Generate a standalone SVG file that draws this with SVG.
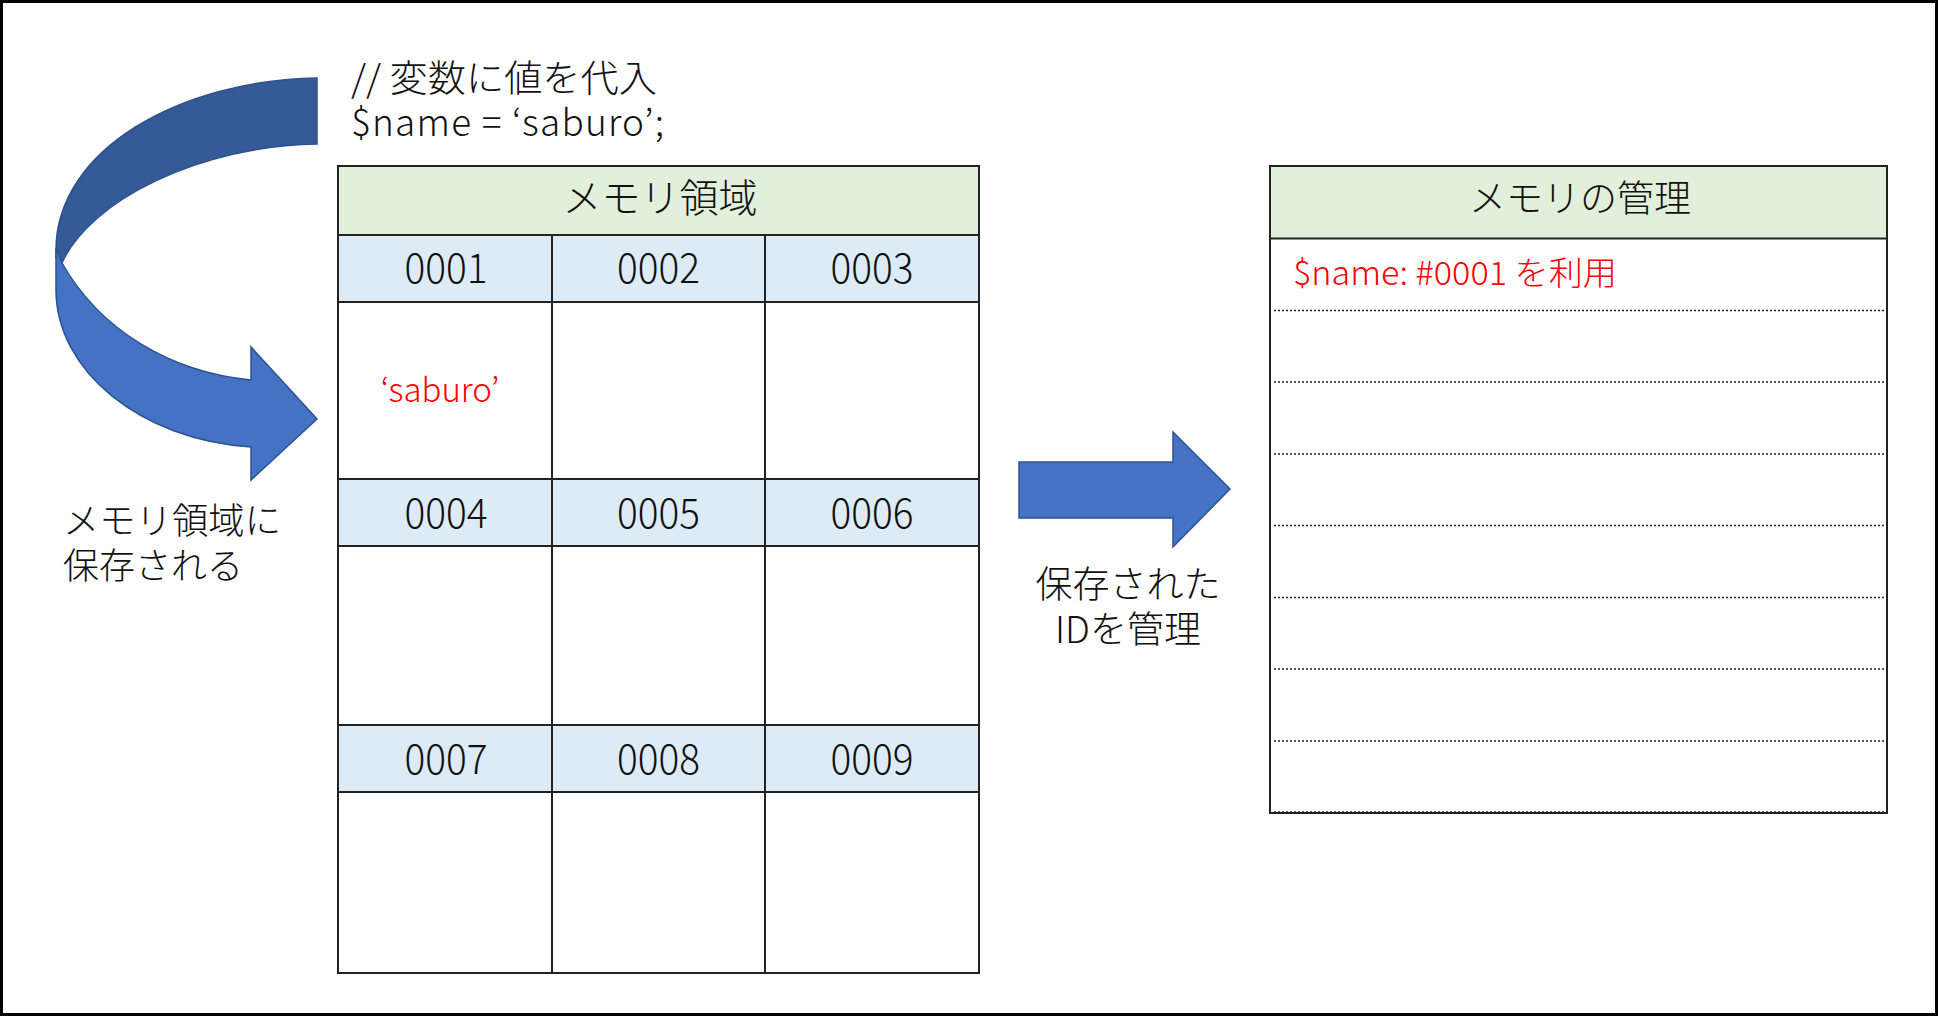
<svg xmlns="http://www.w3.org/2000/svg" width="1938" height="1016" viewBox="0 0 1938 1016">
<style>
.t{font-family:"Noto Sans CJK JP","Noto Sans",sans-serif;fill:#111;font-weight:300}
.red{fill:#FF0000}
.num{font-size:41px;text-anchor:middle}
.grid{stroke:#222;stroke-width:2;fill:none}
.dot{stroke:#222;stroke-width:1.5;stroke-dasharray:2 2;fill:none}
.arrow{fill:#4472C4;stroke:#2F528F;stroke-width:1.5;stroke-linejoin:miter}
.arrowback{fill:#345A98;stroke:#2F528F;stroke-width:1.5}
</style>
<rect x="0" y="0" width="1938" height="1016" fill="#fff"/>
<rect x="1.5" y="1.5" width="1935" height="1013" fill="none" stroke="#000" stroke-width="3"/>

<g id="code-label">
<text class="t" x="351" y="92" font-size="37" textLength="306" lengthAdjust="spacingAndGlyphs">// 変数に値を代入</text>
<text class="t" x="351" y="136" font-size="37" textLength="313" lengthAdjust="spacing" xml:space="preserve">$name = ‘saburo’;</text>
</g>

<g id="connectors">
<g id="curved-arrow">
<path class="arrowback" d="M317,78 C180,80 56,150 56,250 L56,258 L62,263 C90,200 200,146 317,144 Z"/>
<path class="arrow" d="M56,248 L56,290 C56,370 140,440 251,447 L251,480 L317,419 L251,347 L251,380 C170,372 100,330 62,263 Z"/>
</g>
<path id="right-arrow" class="arrow" d="M1019,462 L1173,462 L1173,432 L1230,489 L1173,547 L1173,518 L1019,518 Z"/>
</g>

<g id="label-store">
<text class="t" x="63" y="534" font-size="36" textLength="218" lengthAdjust="spacingAndGlyphs">メモリ領域に</text>
<text class="t" x="63" y="579" font-size="36">保存される</text>
</g>

<g id="label-manage">
<text class="t" x="1128" y="598" font-size="37" text-anchor="middle">保存された</text>
<text class="t" x="1128" y="643" font-size="37" text-anchor="middle">IDを管理</text>
</g>

<g id="memory-area">
<rect x="338" y="166" width="641" height="69" fill="#E2EFDA"/>
<rect x="338" y="235" width="641" height="67" fill="#DDEBF7"/>
<rect x="338" y="479" width="641" height="67" fill="#DDEBF7"/>
<rect x="338" y="725" width="641" height="67" fill="#DDEBF7"/>
<rect class="grid" x="338" y="166" width="641" height="807"/>
<path class="grid" d="M338,235H979M338,302H979M338,479H979M338,546H979M338,725H979M338,792H979M552,235V973M765,235V973"/>
<text class="t" x="660" y="212" font-size="39" text-anchor="middle">メモリ領域</text>
<text class="t num" x="446" y="283" textLength="83" lengthAdjust="spacingAndGlyphs">0001</text>
<text class="t num" x="658.5" y="283" textLength="83" lengthAdjust="spacingAndGlyphs">0002</text>
<text class="t num" x="872" y="283" textLength="83" lengthAdjust="spacingAndGlyphs">0003</text>
<text class="t num" x="446" y="528" textLength="83" lengthAdjust="spacingAndGlyphs">0004</text>
<text class="t num" x="658.5" y="528" textLength="83" lengthAdjust="spacingAndGlyphs">0005</text>
<text class="t num" x="872" y="528" textLength="83" lengthAdjust="spacingAndGlyphs">0006</text>
<text class="t num" x="446" y="774" textLength="83" lengthAdjust="spacingAndGlyphs">0007</text>
<text class="t num" x="658.5" y="774" textLength="83" lengthAdjust="spacingAndGlyphs">0008</text>
<text class="t num" x="872" y="774" textLength="83" lengthAdjust="spacingAndGlyphs">0009</text>
<text class="t red" x="440" y="402" font-size="33" text-anchor="middle">‘saburo’</text>
</g>

<g id="memory-management">
<rect x="1270" y="166" width="617" height="72" fill="#E2EFDA"/>
<rect class="grid" x="1270" y="166" width="617" height="647"/>
<path class="grid" d="M1270,238.5H1887"/>
<path class="dot" d="M1274,310.5H1887M1274,382H1887M1274,454H1887M1274,525.5H1887M1274,597.5H1887M1274,669H1887M1274,741H1887M1274,812H1887"/>
<text class="t" x="1580" y="212" font-size="37" text-anchor="middle">メモリの管理</text>
<text class="t red" x="1293" y="285" font-size="33" textLength="324" lengthAdjust="spacingAndGlyphs">$name: #0001 を利用</text>
</g>
</svg>
